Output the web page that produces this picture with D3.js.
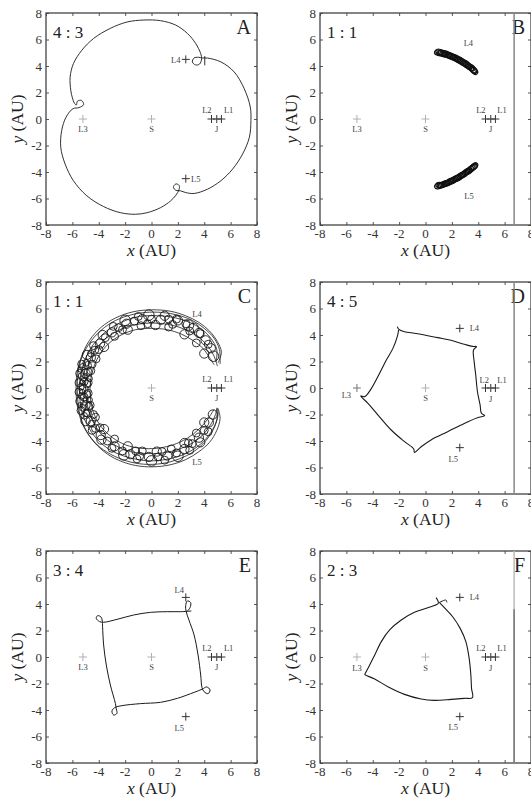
<!DOCTYPE html>
<html>
<head>
<meta charset="utf-8">
<script src="https://d3js.org/d3.v7.min.js"></script>
<style>
  body { margin: 0; background: #fff; }
</style>
</head>
<body>
<div id="chart"></div>
<script>
// ---- values (AU) ----
var ticks = [-8, -6, -4, -2, 0, 2, 4, 6, 8];
var letters = ["A", "B", "C", "D", "E", "F"];
var ratios = ["4 : 3", "1 : 1", "1 : 1", "4 : 5", "3 : 4", "2 : 3"];

// crosses per panel: [x, y, shade]
var crossesA = [[0,0,"g"],[-5.2,0,"g"],[4.55,0,"d"],[4.95,0,"d"],[5.3,0,"d"],[2.6,4.5,"d"],[2.6,-4.5,"d"]];
var crossesB = [[0,0,"g"],[-5.2,0,"g"],[4.55,0,"d"],[4.95,0,"d"],[5.3,0,"d"]];
var crossesC = [[0,0,"g"],[4.55,0,"d"],[4.95,0,"d"],[5.3,0,"d"]];
var crossesD = [[0,0,"g"],[-5.2,0,"m"],[4.55,0,"d"],[4.95,0,"d"],[5.3,0,"d"],[2.6,4.5,"d"],[2.6,-4.5,"d"]];
var crossesE = [[0,0,"g"],[-5.2,0,"g"],[4.55,0,"d"],[4.95,0,"d"],[5.3,0,"d"],[2.6,4.5,"d"],[2.6,-4.5,"d"]];
var crossesF = [[0,0,"g"],[-5.2,0,"g"],[4.55,0,"d"],[4.95,0,"d"],[5.3,0,"d"],[2.6,4.5,"d"],[2.6,-4.5,"d"]];

// labels per panel: [text, x, y, anchor]
var labelsA = [["L3",-5.2,-0.75,"middle"],["S",0,-0.75,"middle"],["L2",4.2,0.65,"middle"],["L1",5.85,0.65,"middle"],["J",4.95,-0.75,"middle"],["L4",2.2,4.45,"end"],["L5",3.0,-4.5,"start"]];
var labelsB = [["L3",-5.2,-0.75,"middle"],["S",0,-0.75,"middle"],["L2",4.2,0.65,"middle"],["L1",5.8,0.65,"middle"],["J",4.95,-0.75,"middle"],["L4",3.25,5.7,"middle"],["L5",3.3,-5.8,"middle"]];
var labelsC = [["S",0,-0.75,"middle"],["L2",4.2,0.65,"middle"],["L1",5.85,0.65,"middle"],["J",4.95,-0.75,"middle"],["L4",3.45,5.6,"middle"],["L5",3.45,-5.6,"middle"]];
var labelsD = [["L3",-6.0,-0.55,"middle"],["S",0,-0.75,"middle"],["L2",4.45,0.6,"middle"],["L1",5.8,0.6,"middle"],["J",4.95,-0.8,"middle"],["L4",3.35,4.5,"start"],["L5",2.1,-5.35,"middle"]];
var labelsE = [["L3",-5.2,-0.75,"middle"],["S",0,-0.75,"middle"],["L2",4.2,0.65,"middle"],["L1",5.85,0.65,"middle"],["J",4.95,-0.75,"middle"],["L4",2.1,5.05,"middle"],["L5",2.1,-5.35,"middle"]];
var labelsF = [["L3",-5.2,-0.85,"middle"],["S",0,-0.85,"middle"],["L2",4.2,0.65,"middle"],["L1",5.8,0.65,"middle"],["J",4.95,-0.8,"middle"],["L4",3.35,4.5,"start"],["L5",2.1,-5.3,"middle"]];

// A: 4:3 orbit, closed path through three loops
var orbitA = [
  [-6.0,1.6],[-6.12,2.16],[-6.17,3.17],[-5.92,4.18],[-5.28,5.19],[-4.39,6.08],[-3.12,6.84],
  [-1.85,7.32],[-0.58,7.47],[0.69,7.42],[1.83,7.09],[2.72,6.46],[3.35,5.7],[3.73,4.94],
  [3.8,4.55],[3.65,4.15],[3.35,4.08],[3.1,4.3],[3.22,4.6],[3.55,4.66],[3.9,4.6],
  [4.24,4.6],[5.26,4.31],[6.27,3.55],[7.03,2.29],[7.49,0.9],[7.54,-0.11],[7.42,-1.38],
  [6.91,-2.64],[6.15,-3.78],[5.26,-4.66],[4.24,-5.3],[3.23,-5.62],[2.59,-5.55],
  [2.2,-5.42],[1.85,-5.38],[1.66,-5.15],[1.85,-4.9],[2.1,-5.02],[2.08,-5.35],[1.85,-5.75],
  [1.45,-6.18],[0.69,-6.69],[-0.33,-7.07],[-1.22,-7.19],[-2.36,-7.07],[-3.63,-6.61],
  [-4.9,-5.8],[-5.92,-4.66],[-6.55,-3.4],[-6.88,-2.14],[-6.81,-0.87],[-6.48,0.14],
  [-5.95,0.78],[-5.5,0.86],[-5.15,1.08],[-5.3,1.4],[-5.62,1.34],[-5.7,1.05],[-5.85,1.2]
];
var tickA = [[4.04,4.05],[4.04,4.75]];

// B: tadpole loops around L4 and L5 [x, y], two passes each
var loopsB4 = [[0.98,5.0],[1.18,4.95],[1.38,4.9],[1.58,4.85],[1.78,4.78],[1.98,4.7],[2.18,4.61],
  [2.38,4.51],[2.58,4.4],[2.78,4.29],[2.98,4.16],[3.18,4.03],[3.38,3.89],[3.58,3.74],[3.7,3.62]];
var loopsB4b = [[1.08,5.06],[1.28,4.99],[1.48,4.95],[1.68,4.86],[1.88,4.8],[2.08,4.7],[2.28,4.63],
  [2.48,4.51],[2.68,4.42],[2.88,4.28],[3.08,4.17],[3.28,4.0],[3.48,3.88],[3.65,3.7]];
var loopsB5 = [[0.98,-5.06],[1.18,-5.0],[1.38,-4.93],[1.58,-4.85],[1.78,-4.77],[1.98,-4.68],[2.18,-4.58],
  [2.38,-4.47],[2.58,-4.35],[2.78,-4.23],[2.98,-4.1],[3.18,-3.96],[3.38,-3.82],[3.58,-3.67],[3.7,-3.56]];
var loopsB5b = [[1.08,-4.98],[1.28,-4.98],[1.48,-4.87],[1.68,-4.83],[1.88,-4.7],[2.08,-4.65],[2.28,-4.5],
  [2.48,-4.44],[2.68,-4.28],[2.88,-4.2],[3.08,-4.02],[3.28,-3.93],[3.48,-3.74],[3.65,-3.62]];

// C: horseshoe envelopes and loops [x, y, r]
var envC1 = [[5.05,1.9],[5.3,2.7],[5.0,3.5],[4.4,4.3],[3.6,4.95],[2.6,5.45],[1.4,5.8],[0,5.9],[-1.4,5.75],
  [-2.7,5.3],[-3.8,4.6],[-4.7,3.6],[-5.3,2.4],[-5.65,1.1],[-5.72,-0.2],[-5.6,-1.5],[-5.2,-2.8],[-4.5,-3.9],
  [-3.6,-4.8],[-2.5,-5.45],[-1.2,-5.85],[0.1,-5.95],[1.4,-5.8],[2.6,-5.4],[3.6,-4.8],[4.4,-4.1],[4.95,-3.2],
  [5.2,-2.3],[5.05,-1.55]];
var envC2 = [[4.9,2.0],[4.95,2.9],[4.5,3.75],[3.8,4.45],[2.9,4.95],[1.8,5.3],[0.5,5.45],[-0.9,5.4],[-2.2,5.0],
  [-3.4,4.3],[-4.4,3.3],[-5.05,2.1],[-5.4,0.8],[-5.45,-0.5],[-5.25,-1.9],[-4.7,-3.1],[-3.9,-4.1],[-2.8,-4.85],
  [-1.5,-5.3],[-0.1,-5.5],[1.3,-5.35],[2.6,-4.95],[3.7,-4.25],[4.5,-3.35],[4.95,-2.4],[4.95,-1.6]];
var envC3 = [[4.75,1.75],[4.4,2.3],[3.9,3.0],[3.2,3.55],[2.3,4.05],[1.2,4.4],[0,4.5],[-1.2,4.4],[-2.3,4.0],
  [-3.3,3.3],[-4.0,2.4],[-4.45,1.35],[-4.65,0.2],[-4.6,-1.0],[-4.3,-2.1],[-3.75,-3.0],[-2.95,-3.75],
  [-1.95,-4.3],[-0.8,-4.55],[0.4,-4.55],[1.6,-4.3],[2.7,-3.8],[3.6,-3.1],[4.3,-2.3],[4.75,-1.6]];
var envC4 = [[5.0,1.65],[4.7,2.5],[4.2,3.25],[3.5,3.9],[2.6,4.4],[1.5,4.75],[0.2,4.9],[-1.1,4.8],[-2.4,4.4],
  [-3.5,3.7],[-4.35,2.7],[-4.85,1.5],[-5.0,0.2],[-4.9,-1.1],[-4.5,-2.4],[-3.8,-3.5],[-2.8,-4.3],[-1.6,-4.8],
  [-0.2,-4.95],[1.2,-4.85],[2.5,-4.45],[3.6,-3.8],[4.4,-2.9],[4.85,-2.0],[4.95,-1.5]];
var envC5 = [[5.2,1.8],[5.15,2.9],[4.75,3.75],[4.0,4.5],[3.1,5.1],[2.0,5.5],[0.8,5.7],[-0.5,5.7],[-1.8,5.45],
  [-3.0,4.95],[-4.1,4.1],[-4.95,3.0],[-5.45,1.8],[-5.62,0.5],[-5.6,-0.8],[-5.4,-2.1],[-4.9,-3.3],[-4.1,-4.3],
  [-3.1,-5.0],[-1.9,-5.5],[-0.6,-5.75],[0.8,-5.7],[2.1,-5.35],[3.2,-4.8],[4.1,-4.0],[4.75,-3.0],[5.05,-2.0],[5.0,-1.5]];
var loopsC = [
  [4.7,2.4,0.4],[4.5,3.0,0.35],[4.1,3.6,0.35],[3.7,4.1,0.3],[3.2,4.55,0.35],[2.6,4.85,0.3],[2.0,5.1,0.35],
  [1.3,5.2,0.3],[0.7,5.15,0.35],[0.0,5.2,0.3],[-0.7,5.2,0.35],[-1.3,5.05,0.3],[-1.9,4.85,0.35],[-2.5,4.55,0.3],
  [-3.0,4.2,0.35],[-3.5,3.8,0.3],[-3.9,3.35,0.35],[-4.3,2.85,0.3],[-4.6,2.3,0.35],[-4.85,1.7,0.3],[-5.0,1.1,0.35],
  [-5.1,0.5,0.3],[-5.15,-0.1,0.35],[-5.1,-0.7,0.3],[-5.0,-1.3,0.35],[-4.85,-1.9,0.3],[-4.6,-2.5,0.35],
  [-4.25,-3.05,0.3],[-3.85,-3.55,0.35],[-3.35,-4.0,0.3],[-2.8,-4.4,0.35],[-2.2,-4.75,0.3],[-1.6,-5.0,0.35],
  [-0.9,-5.15,0.3],[-0.2,-5.2,0.35],[0.5,-5.2,0.3],[1.2,-5.1,0.35],[1.9,-4.9,0.3],[2.5,-4.6,0.35],[3.1,-4.2,0.3],
  [3.6,-3.75,0.35],[4.0,-3.2,0.3],[4.35,-2.6,0.35],[4.65,-2.0,0.35],
  [-4.8,1.2,0.3],[-4.9,0.3,0.3],[-4.9,-0.5,0.3],[-4.75,-1.4,0.3],[-5.3,0.9,0.25],[-5.35,0.1,0.25],
  [-5.3,-0.6,0.25],[-5.2,-1.5,0.25],[-4.5,1.8,0.3],[-4.4,-2.0,0.3],[-5.2,1.6,0.25],[-5.1,-2.1,0.25],
  [-4.0,2.9,0.3],[-3.9,-3.0,0.3],[1.6,4.8,0.3],[-0.3,4.85,0.3],[-2.2,4.4,0.3],[2.9,4.3,0.3],
  [0.8,-4.8,0.3],[-1.2,-4.75,0.3],[2.8,-4.15,0.3]
];
var loopsC2 = [
  [4.3,3.3,0.3],[3.6,4.15,0.35],[2.8,4.75,0.4],[1.9,5.2,0.3],[1.0,5.45,0.35],[-0.2,5.5,0.4],[-1.0,5.4,0.3],
  [-2.0,5.1,0.4],[-2.9,4.65,0.3],[-3.7,4.0,0.35],[-4.4,3.2,0.3],[-4.9,2.5,0.35],[-5.3,1.8,0.3],[-5.45,1.1,0.3],
  [-5.5,0.4,0.3],[-5.5,-0.3,0.3],[-5.45,-1.0,0.3],[-5.35,-1.7,0.3],[-5.0,-2.5,0.35],[-4.5,-3.2,0.3],
  [-3.8,-3.9,0.35],[-3.0,-4.55,0.3],[-2.1,-5.05,0.4],[-1.1,-5.35,0.3],[0.0,-5.5,0.4],[1.0,-5.45,0.3],
  [2.0,-5.15,0.4],[2.9,-4.7,0.3],[3.7,-4.1,0.35],[4.3,-3.3,0.3],
  [4.0,2.6,0.35],[3.4,3.4,0.3],[2.5,4.05,0.35],[1.3,4.6,0.3],[0.3,4.75,0.35],[-0.8,4.7,0.3],[-1.8,4.4,0.35],
  [-2.8,3.9,0.3],[-3.6,3.1,0.35],[-4.2,2.2,0.3],[-4.6,1.3,0.3],[-4.8,0.4,0.3],[-4.8,-0.4,0.3],[-4.65,-1.3,0.3],
  [-4.25,-2.2,0.3],[-3.6,-3.1,0.35],[-2.8,-3.85,0.3],[-1.8,-4.4,0.35],[-0.7,-4.75,0.3],[0.4,-4.8,0.35],
  [1.5,-4.6,0.3],[2.5,-4.15,0.35],[3.4,-3.4,0.3],[4.0,-2.6,0.35],
  [-5.0,0.9,0.2],[-5.0,-0.9,0.2],[-5.25,0.4,0.2],[-5.25,-0.3,0.2],[-4.95,1.9,0.25],[-4.95,-1.9,0.25],
  [-5.4,1.4,0.2],[-5.4,-1.3,0.2],[-4.7,0.7,0.22],[-4.7,-0.9,0.22],[-4.6,2.6,0.25],[-4.55,-2.7,0.25]
];

// D: 4:5 orbit (pentagon)
var orbitD = [
  [-2.14,4.63],[-2.04,4.45],[-1.59,4.25],[-0.84,4.13],[-0.08,4.0],[0.92,3.8],[1.93,3.6],[2.94,3.3],
  [3.56,3.14],[3.87,3.12],[3.64,2.87],[3.69,1.99],[3.81,0.98],[3.94,-0.28],[4.14,-1.28],[4.24,-1.91],
  [4.49,-2.09],[3.94,-2.24],[2.94,-2.67],[1.68,-3.3],[0.42,-3.92],[-0.33,-4.43],[-0.84,-4.86],
  [-0.89,-4.6],[-1.59,-4.05],[-2.6,-3.17],[-3.6,-2.04],[-4.36,-1.16],[-4.91,-0.6],[-4.61,-0.65],
  [-4.1,-0.03],[-3.48,1.11],[-2.97,2.11],[-2.47,2.99],[-2.14,3.87],[-2.04,4.38]
];

// E: 3:4 orbit (square with corner loops)
var orbitE = [
  [3.02,3.47],[2.21,3.42],[1.19,3.42],[-0.08,3.37],[-1.35,3.17],[-2.62,2.84],[-3.63,2.62],
  [-3.94,2.67],[-4.19,2.92],[-4.09,3.12],[-3.83,3.02],[-3.73,2.72],
  [-3.71,2.29],[-3.63,0.91],[-3.43,-0.6],[-3.12,-2.11],[-2.74,-3.5],
  [-2.67,-3.92],[-2.62,-4.25],[-2.87,-4.38],[-3.0,-4.08],[-2.79,-3.82],
  [-2.23,-3.67],[-0.84,-3.52],[0.69,-3.42],[1.96,-3.12],[3.23,-2.67],[3.86,-2.42],
  [4.19,-2.26],[4.44,-2.49],[4.29,-2.77],[3.99,-2.62],[3.83,-2.31],
  [3.73,-1.36],[3.53,0.15],[3.23,1.66],[2.84,2.79],[2.62,3.47],
  [2.59,3.87],[2.72,4.23],[2.97,4.1],[2.92,3.72],[2.72,3.47]
];

// F: 2:3 orbit (triangle)
var orbitF = [
  [0.8,4.48],[0.97,4.05],[0.17,3.72],[-0.84,3.37],[-1.84,2.79],[-2.72,2.04],[-3.35,1.16],[-3.85,0.15],
  [-4.3,-0.73],[-4.56,-1.23],[-4.61,-1.31],[-3.85,-1.66],[-2.85,-2.24],[-1.59,-2.82],[-0.33,-3.17],
  [0.67,-3.27],[1.93,-3.2],[2.94,-3.12],[3.56,-3.07],[3.49,-2.36],[3.44,-1.36],[3.31,-0.1],[3.06,1.16],
  [2.63,2.16],[2.06,3.04],[1.43,3.72],[1.05,4.12]
];
var hookF = [[1.05,4.12],[1.35,4.25],[1.55,4.3],[1.62,4.12]];

// page-edge line seen in the right column, at x (AU)
var edgeX = 6.72;

// ---- layout ----
var W = 531, H = 801;
var colLeft = [46, 320];
var rowTop = [13, 282, 551];
var pw = 211, ph = 212;
var serif = "'Liberation Serif', 'Times New Roman', 'DejaVu Serif', serif";

var svg = d3.select("#chart").append("svg")
  .attr("width", W).attr("height", H)
  .attr("font-family", serif)
  .style("display", "block");

var crossSets = [crossesA, crossesB, crossesC, crossesD, crossesE, crossesF];
var labelSets = [labelsA, labelsB, labelsC, labelsD, labelsE, labelsF];
var shade = { g: "#b0b0b0", m: "#777", d: "#333" };

function txt(sel) {
  return sel.append("text").attr("font-family", serif);
}

function drawPanel(i) {
  var left = colLeft[i % 2], top = rowTop[Math.floor(i / 2)];
  var x = d3.scaleLinear().domain([-8, 8]).range([left, left + pw]);
  var y = d3.scaleLinear().domain([-8, 8]).range([top + ph, top]);
  var g = svg.append("g");
  var line = d3.line().x(function(d) { return x(d[0]); }).y(function(d) { return y(d[1]); });

  // inward ticks on all four sides
  g.append("g").attr("transform", "translate(0," + (top + ph) + ")")
    .call(d3.axisBottom(x).tickValues(ticks).tickSize(-3).tickFormat(""));
  g.append("g").attr("transform", "translate(0," + top + ")")
    .call(d3.axisTop(x).tickValues(ticks).tickSize(-3).tickFormat(""));
  g.append("g").attr("transform", "translate(" + left + ",0)")
    .call(d3.axisLeft(y).tickValues(ticks).tickSize(-3).tickFormat(""));
  g.append("g").attr("transform", "translate(" + (left + pw) + ",0)")
    .call(d3.axisRight(y).tickValues(ticks).tickSize(-3).tickFormat(""));
  g.selectAll(".domain").remove();
  g.selectAll(".tick line").attr("stroke", "#555");

  g.append("rect").attr("x", left).attr("y", top).attr("width", pw).attr("height", ph)
    .attr("fill", "none").attr("stroke", "#444").attr("stroke-width", 1.3);

  // tick labels
  g.selectAll(".xt").data(ticks).enter().append("text").attr("font-family", serif)
    .attr("x", function(d) { return x(d); }).attr("y", top + ph + 13)
    .attr("text-anchor", "middle").attr("font-size", 13).attr("fill", "#333")
    .text(function(d) { return d; });
  g.selectAll(".yt").data(ticks).enter().append("text").attr("font-family", serif)
    .attr("x", left - 4).attr("y", function(d) { return y(d); }).attr("dy", "0.35em")
    .attr("text-anchor", "end").attr("font-size", 13).attr("fill", "#333")
    .text(function(d) { return d; });

  // axis titles
  var xt = txt(g).attr("x", left + pw / 2).attr("y", top + ph + 31)
    .attr("text-anchor", "middle").attr("font-size", 17.5).attr("fill", "#222");
  xt.append("tspan").attr("font-style", "italic").text("x");
  xt.append("tspan").text(" (AU)");
  var yt = txt(g).attr("transform", "translate(" + (left - 23) + "," + (top + ph / 2) + ") rotate(-90)")
    .attr("text-anchor", "middle").attr("font-size", 17.5).attr("fill", "#222");
  yt.append("tspan").attr("font-style", "italic").text("y");
  yt.append("tspan").text(" (AU)");

  txt(g).attr("x", left + 7).attr("y", top + 24.5)
    .attr("font-size", 17).attr("fill", "#222").text(ratios[i]);
  txt(g).attr("x", left + pw - 6).attr("y", top + 21)
    .attr("text-anchor", "end").attr("font-size", 20).attr("fill", "#222").text(letters[i]);

  if (i % 2 == 1) {
    g.append("line").attr("x1", x(edgeX)).attr("x2", x(edgeX)).attr("y1", top).attr("y2", top + ph)
      .attr("stroke", i == 5 ? "#bbb" : "#888").attr("stroke-width", 1.5);
    if (i == 5) {
      g.append("line").attr("x1", x(edgeX)).attr("x2", x(edgeX)).attr("y1", y(3.6)).attr("y2", top + ph)
        .attr("stroke", "#777").attr("stroke-width", 1.5);
    }
  }

  // crosses
  crossSets[i].forEach(function(c) {
    var cx = x(c[0]), cy = y(c[1]);
    g.append("path").attr("d", "M" + (cx - 4) + "," + cy + "H" + (cx + 4) + "M" + cx + "," + (cy - 4) + "V" + (cy + 4))
      .attr("stroke", shade[c[2]]).attr("stroke-width", 1).attr("fill", "none");
  });
  labelSets[i].forEach(function(l) {
    txt(g).attr("x", x(l[1])).attr("y", y(l[2])).attr("dy", "0.35em")
      .attr("text-anchor", l[3]).attr("font-size", 8.5).attr("fill", "#444").text(l[0]);
  });

  return { g: g, x: x, y: y, line: line };
}

var orbitStroke = "#1a1a1a";
var smooth = d3.curveCatmullRom.alpha(0.5);

// A
var pA = drawPanel(0);
pA.g.append("path").attr("d", pA.line.curve(d3.curveCatmullRomClosed.alpha(0.5))(orbitA))
  .attr("fill", "none").attr("stroke", orbitStroke).attr("stroke-width", 0.9);
pA.g.append("path").attr("d", d3.line().x(function(d) { return pA.x(d[0]); }).y(function(d) { return pA.y(d[1]); })(tickA))
  .attr("fill", "none").attr("stroke", orbitStroke).attr("stroke-width", 0.9);

// B
var pB = drawPanel(1);
[loopsB4, loopsB4b, loopsB5, loopsB5b].forEach(function(band) {
  band.forEach(function(c, k) {
    var a = band[Math.max(k - 1, 0)], b = band[Math.min(k + 1, band.length - 1)];
    var ang = Math.atan2(pB.y(b[1]) - pB.y(a[1]), pB.x(b[0]) - pB.x(a[0])) * 180 / Math.PI;
    pB.g.append("ellipse")
      .attr("transform", "translate(" + pB.x(c[0]) + "," + pB.y(c[1]) + ") rotate(" + ang + ")")
      .attr("rx", pB.x(0.3) - pB.x(0)).attr("ry", pB.x(0.2) - pB.x(0))
      .attr("fill", "none").attr("stroke", "#111").attr("stroke-width", 1.2);
  });
});

// C
var pC = drawPanel(2);
[envC1, envC2, envC3, envC4, envC5].forEach(function(env) {
  pC.g.append("path").attr("d", pC.line.curve(smooth)(env))
    .attr("fill", "none").attr("stroke", orbitStroke).attr("stroke-width", 0.8);
});
pC.g.selectAll(".loop").data(loopsC.concat(loopsC2)).enter().append("circle")
  .attr("cx", function(d) { return pC.x(d[0]); })
  .attr("cy", function(d) { return pC.y(d[1]); })
  .attr("r", function(d) { return pC.x(d[2]) - pC.x(0); })
  .attr("fill", "none").attr("stroke", orbitStroke).attr("stroke-width", 0.9);

// D, E, F
var pD = drawPanel(3);
pD.g.append("path").attr("d", pD.line.curve(smooth)(orbitD))
  .attr("fill", "none").attr("stroke", orbitStroke).attr("stroke-width", 1.1);
var pE = drawPanel(4);
pE.g.append("path").attr("d", pE.line.curve(smooth)(orbitE))
  .attr("fill", "none").attr("stroke", orbitStroke).attr("stroke-width", 1);
var pF = drawPanel(5);
pF.g.append("path").attr("d", pF.line.curve(smooth)(orbitF))
  .attr("fill", "none").attr("stroke", orbitStroke).attr("stroke-width", 1.1);
pF.g.append("path").attr("d", pF.line.curve(smooth)(hookF))
  .attr("fill", "none").attr("stroke", orbitStroke).attr("stroke-width", 1);
</script>
</body>
</html>
